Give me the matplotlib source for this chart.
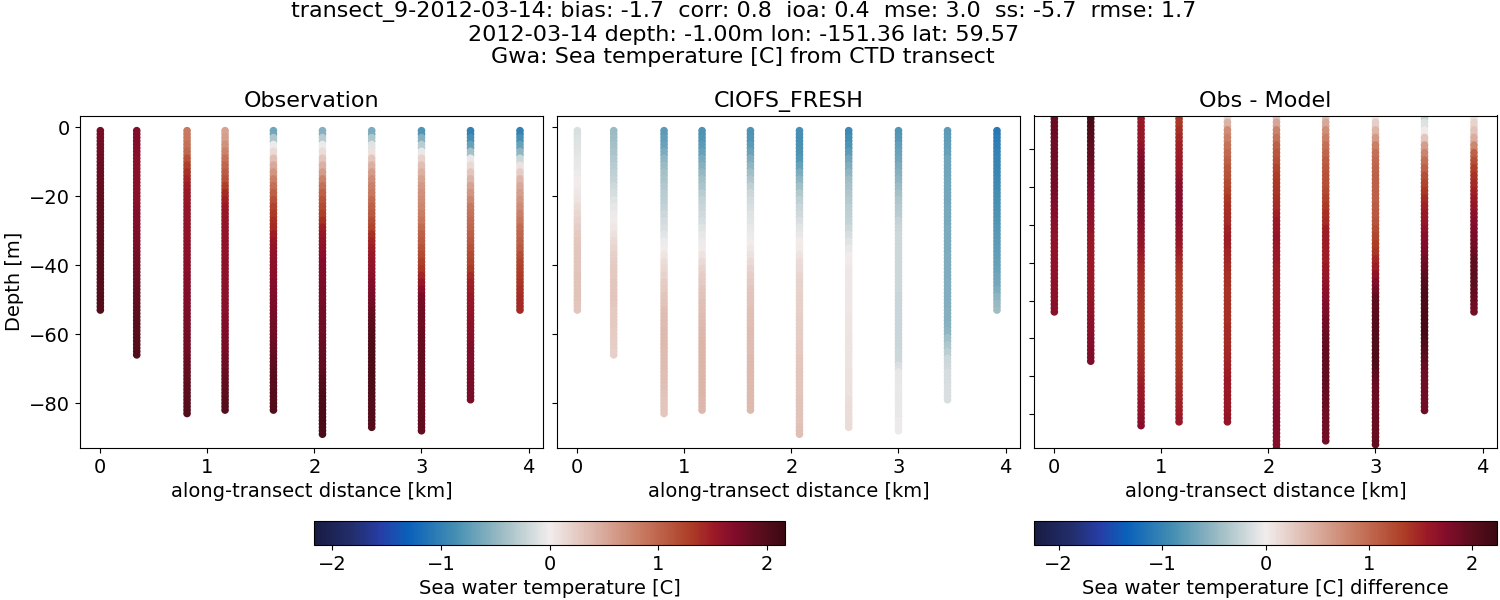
import numpy as np
import matplotlib
matplotlib.use("Agg")
import matplotlib.pyplot as plt
from matplotlib.colors import LinearSegmentedColormap

# Cast positions along the transect [km] and deepest sample of each cast [m]
cast_km = [0.0, 0.34, 0.81, 1.165, 1.617, 2.075, 2.535, 3.0, 3.458, 3.92]
cast_bottom = [53, 66, 83, 82, 82, 89, 87, 88, 79, 53]

# Temperature readings [C], one for every 2 m from the surface down
obs_1 = [1.78,1.78,1.79,1.80,1.82,1.84,1.85,1.86,1.87,1.88,1.89,1.90,1.91,1.92,1.92,1.93,1.94,1.94,1.95,1.96,1.96,1.97,1.98,1.98,1.99,2.00,2.00]
obs_2 = [1.70,1.70,1.68,1.67,1.66,1.65,1.65,1.65,1.65,1.66,1.66,1.67,1.68,1.69,1.70,1.72,1.74,1.76,1.78,1.80,1.82,1.84,1.86,1.88,1.90,1.91,1.93,1.94,1.95,1.96,1.97,1.98,2.00]
obs_3 = [.85,.87,.92,1.0,1.15,1.28,1.38,1.45,1.50,1.53,1.55,1.56,1.58,1.59,1.60,1.61,1.62,1.63,1.64,1.65,1.66,1.67,1.68,1.69,1.70,1.72,1.73,1.75,1.76,1.78,1.79,1.81,1.82,1.84,1.85,1.88,1.90,1.92,1.94,1.96,1.98,2.00]
obs_4 = [.55,.58,.68,.78,.90,1.0,1.08,1.15,1.28,1.40,1.47,1.52,1.55,1.57,1.58,1.59,1.60,1.60,1.61,1.62,1.62,1.62,1.63,1.63,1.63,1.65,1.66,1.68,1.70,1.72,1.74,1.76,1.78,1.80,1.82,1.85,1.88,1.90,1.93,1.95,1.98]
obs_5 = [-.65,-.35,-.02,.15,.35,.5,.65,.8,.92,1.05,1.15,1.25,1.32,1.38,1.42,1.5,1.55,1.58,1.6,1.62,1.64,1.66,1.68,1.70,1.72,1.74,1.76,1.77,1.79,1.80,1.82,1.84,1.86,1.89,1.92,1.94,1.95,1.96,1.97,1.98,2.0]
obs_6 = [-.55,-.3,-.02,.12,.3,.45,.6,.78,.92,1.05,1.12,1.2,1.28,1.38,1.48,1.55,1.6,1.62,1.65,1.68,1.7,1.71,1.73,1.75,1.76,1.78,1.79,1.8,1.82,1.83,1.84,1.85,1.87,1.89,1.91,1.94,1.97,2.0,2.03,2.05,2.06,2.06,2.06,2.05,2.05]
obs_7 = [-.6,-.35,-.1,.1,.3,.45,.6,.72,.8,.85,.95,1.02,1.1,1.18,1.25,1.38,1.45,1.5,1.53,1.56,1.6,1.64,1.68,1.72,1.76,1.8,1.85,1.9,1.94,1.98,2.0,2.02,2.03,2.04,2.04,2.04,2.03,2.02,2.01,2.0,2.0,1.99,1.99,1.98]
obs_8 = [-.8,-.55,-.3,-.05,.2,.35,.45,.55,.62,.68,.72,.76,.82,.88,.95,1.02,1.08,1.14,1.2,1.28,1.35,1.45,1.55,1.65,1.75,1.78,1.8,1.82,1.83,1.84,1.85,1.86,1.87,1.87,1.87,1.87,1.86,1.85,1.85,1.86,1.87,1.88,1.89,1.9]
obs_9 = [-1.0,-.85,-.7,-.4,-.05,.15,.3,.42,.55,.65,.75,.85,.9,.95,1.0,1.05,1.1,1.15,1.2,1.25,1.32,1.4,1.47,1.5,1.53,1.55,1.57,1.6,1.62,1.64,1.66,1.68,1.7,1.71,1.72,1.73,1.74,1.75,1.75,1.76]
obs_10 = [-1.0,-.85,-.7,-.5,-.2,.1,.25,.4,.5,.58,.65,.72,.8,.88,.95,1.0,1.05,1.1,1.18,1.25,1.28,1.32,1.35,1.38,1.4,1.42,1.42]

model_1 = [-.12,-.11,-.1,-.08,-.06,-.04,-.02,0,.02,.05,.08,.12,.16,.2,.23,.26,.28,.29,.3,.3,.3,.31,.31,.31,.31,.3,.3]
model_2 = [-.45,-.43,-.4,-.37,-.33,-.3,-.27,-.23,-.18,-.14,-.1,-.06,-.02,.02,.05,.09,.14,.18,.22,.24,.26,.27,.28,.28,.29,.28,.27,.27,.26,.25,.24,.23,.22]
model_3 = [-.75,-.72,-.68,-.6,-.5,-.45,-.4,-.36,-.33,-.3,-.28,-.25,-.2,-.16,-.12,-.08,-.03,0,.06,.12,.16,.2,.24,.27,.3,.32,.34,.36,.37,.38,.38,.38,.37,.37,.36,.35,.34,.33,.31,.3,.29,.28]
model_4 = [-.82,-.8,-.75,-.7,-.62,-.55,-.48,-.42,-.36,-.3,-.25,-.22,-.18,-.14,-.1,-.06,-.02,.02,.08,.14,.2,.24,.27,.29,.31,.33,.35,.37,.38,.39,.4,.41,.42,.42,.42,.42,.42,.41,.41,.4,.4]
model_5 = [-.82,-.8,-.76,-.68,-.58,-.5,-.42,-.34,-.26,-.2,-.16,-.12,-.09,-.07,-.05,-.02,0,.05,.1,.15,.2,.23,.26,.29,.31,.32,.33,.34,.35,.36,.36,.37,.37,.38,.38,.38,.38,.38,.38,.38,.38]
model_6 = [-.85,-.85,-.84,-.82,-.78,-.7,-.6,-.5,-.42,-.33,-.27,-.22,-.17,-.13,-.08,-.04,-.01,.03,.08,.12,.15,.17,.19,.2,.21,.22,.22,.23,.23,.24,.25,.26,.27,.28,.28,.29,.29,.3,.3,.31,.31,.32,.32,.33,.33]
model_7 = [-.92,-.88,-.82,-.75,-.65,-.58,-.5,-.43,-.38,-.34,-.31,-.28,-.26,-.24,-.2,-.15,-.1,-.05,0,.03,.04,.04,.05,.05,.05,.05,.05,.06,.06,.06,.07,.07,.08,.08,.08,.09,.09,.1,.1,.11,.12,.12,.13,.13]
model_8 = [-.8,-.78,-.72,-.68,-.65,-.6,-.55,-.5,-.45,-.4,-.35,-.32,-.29,-.25,-.22,-.2,-.19,-.19,-.19,-.2,-.2,-.2,-.2,-.2,-.21,-.21,-.22,-.22,-.22,-.22,-.21,-.21,-.2,-.19,-.12,-.06,-.06,-.05,-.05,-.04,-.04,-.04,-.03,-.03]
model_9 = [-.75,-.74,-.72,-.7,-.66,-.65,-.65,-.64,-.64,-.64,-.63,-.62,-.62,-.62,-.61,-.6,-.6,-.6,-.59,-.59,-.58,-.58,-.57,-.57,-.56,-.56,-.55,-.55,-.54,-.5,-.42,-.35,-.28,-.2,-.17,-.15,-.14,-.13,-.12,-.12]
model_10 = [-1.08,-1.05,-1.03,-1.0,-.98,-.96,-.94,-.92,-.9,-.88,-.86,-.84,-.82,-.8,-.78,-.77,-.75,-.74,-.72,-.7,-.68,-.66,-.63,-.58,-.52,-.47,-.43]

obs_casts = [obs_1, obs_2, obs_3, obs_4, obs_5, obs_6, obs_7, obs_8, obs_9, obs_10]
model_casts = [model_1, model_2, model_3, model_4, model_5, model_6, model_7, model_8, model_9, model_10]

panel_titles = ["Observation", "CIOFS_FRESH", "Obs - Model"]
suptitle_text = ("transect_9-2012-03-14: bias: -1.7  corr: 0.8  ioa: 0.4  mse: 3.0  ss: -5.7  rmse: 1.7\n"
                 "2012-03-14 depth: -1.00m lon: -151.36 lat: 59.57\n"
                 "Gwa: Sea temperature [C] from CTD transect")

balance = LinearSegmentedColormap.from_list("balance", [
    (0.00, (0.094, 0.110, 0.265)),
    (0.08, (0.135, 0.180, 0.420)),
    (0.14, (0.150, 0.240, 0.650)),
    (0.20, (0.040, 0.380, 0.730)),
    (0.30, (0.270, 0.560, 0.700)),
    (0.40, (0.620, 0.740, 0.770)),
    (0.50, (0.945, 0.930, 0.925)),
    (0.60, (0.860, 0.700, 0.650)),
    (0.70, (0.780, 0.470, 0.370)),
    (0.80, (0.680, 0.240, 0.150)),
    (0.85, (0.610, 0.100, 0.150)),
    (0.89, (0.520, 0.050, 0.170)),
    (0.95, (0.350, 0.050, 0.110)),
    (1.00, (0.235, 0.035, 0.070)),
], N=256)

W, H = 1500, 600
fig = plt.figure(figsize=(W / 100, H / 100), dpi=100)


def box(x0, x1, y0, y1):
    return [x0 / W, 1 - y1 / H, (x1 - x0) / W, (y1 - y0) / H]


ax_obs = fig.add_axes(box(80, 543, 115.5, 448))
ax_model = fig.add_axes(box(557, 1020, 115.5, 448))
ax_diff = fig.add_axes(box(1034, 1497, 115.5, 448))


def draw(ax, casts, vlim):
    art = None
    for km, bottom, readings in zip(cast_km, cast_bottom, casts):
        # every 2 m reading fills its own 2 m of the cast
        vals = np.repeat(np.asarray(readings, float), 2)[:bottom]
        depth = -np.arange(1, len(vals) + 1)
        art = ax.scatter(np.full(len(vals), km), depth, c=vals, s=20, cmap=balance,
                         vmin=-vlim, vmax=vlim)
    return art


diff_casts = [np.array(o) - np.array(m) for o, m in zip(obs_casts, model_casts)]
sc1 = draw(ax_obs, obs_casts, 2.17)
draw(ax_model, model_casts, 2.17)
sc3 = draw(ax_diff, diff_casts, 2.24)

for ax, title in zip([ax_obs, ax_model, ax_diff], panel_titles):
    ax.set_xlim(-0.19, 4.135)
    ax.set_xticks([0, 1, 2, 3, 4])
    ax.tick_params(labelsize=14)
    ax.set_xlabel("along-transect distance [km]", fontsize=14)
    ax.set_title(title, fontsize=16, pad=6)

for ax in [ax_obs, ax_model]:
    ax.set_ylim(-93, 3.4)
    ax.set_yticks([0, -20, -40, -60, -80])
ax_obs.set_ylabel("Depth [m]", fontsize=14, labelpad=4)
ax_model.tick_params(labelleft=False)
ax_diff.set_ylim(-88.9, -1.2)
ax_diff.set_yticks([-10, -20, -30, -40, -50, -60, -70, -80])
ax_diff.tick_params(labelleft=False)

cax1 = fig.add_axes(box(314, 785, 521, 545))
cb1 = fig.colorbar(sc1, cax=cax1, orientation="horizontal")
cb1.set_ticks([-2, -1, 0, 1, 2])
cb1.ax.tick_params(labelsize=14)
cb1.set_label("Sea water temperature [C]", fontsize=14)

cax2 = fig.add_axes(box(1034, 1497, 521, 545))
cb2 = fig.colorbar(sc3, cax=cax2, orientation="horizontal")
cb2.set_ticks([-2, -1, 0, 1, 2])
cb2.ax.tick_params(labelsize=14)
cb2.set_label("Sea water temperature [C] difference", fontsize=14)

fig.suptitle(suptitle_text, fontsize=16, x=0.4955, y=0.998, va="top", linespacing=1.15)

fig.savefig("out.png", dpi=100)
